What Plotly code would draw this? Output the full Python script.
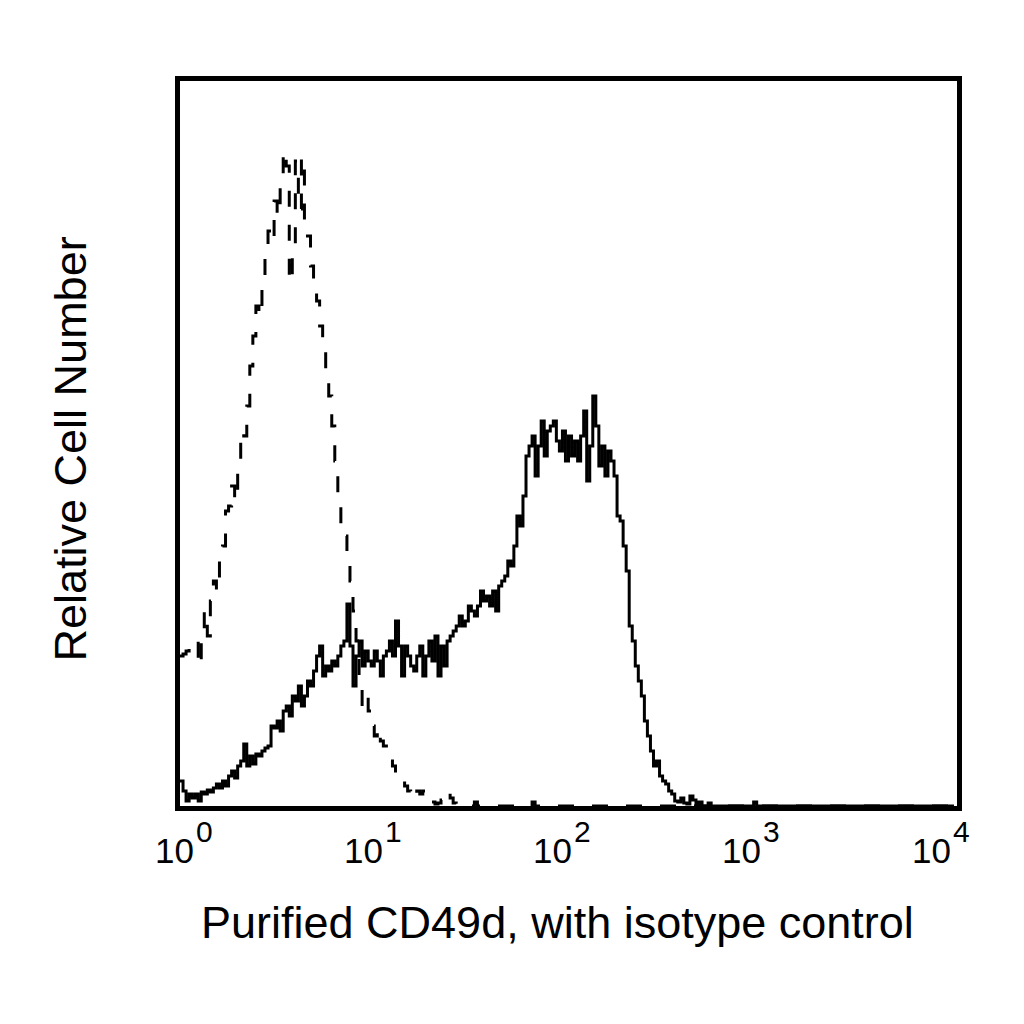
import numpy as np
import plotly.graph_objects as go

# 256 channel log histogram, 64 channels per decade
channels = np.arange(256)
intensity = 10 ** (channels / 64)

# decade labels as drawn (10 with a large exponent)
tick_base = ["10", "10", "10", "10", "10"]
tick_exp = ["0", "1", "2", "3", "4"]

# isotype control (dashed), counts per channel
isotype = [
    150, 152, 155, 160, 162, 165, 140, 175, 195, 170,
    205, 225, 215, 250, 260, 295, 300, 320, 305, 340,
    375, 370, 400, 440, 470, 500, 490, 520, 550, 575,
    565, 605, 590, 620, 655, 640, 524, 560, 645, 597,
    649, 580, 570, 540, 515, 505, 480, 460, 430, 410,
    380, 345, 310, 280, 270, 240, 225, 195, 165, 120,
    100, 110, 95, 80, 70, 78, 65, 60, 50, 45,
    40, 35, 30, 25, 20, 15, 12, 8, 15, 12,
    15, 10, 6, 4, 2, 3, 6, 10, 14, 8,
    3, 0, 0, 0, 0, 0, 0, 4, 0, 0,
    0, 0, 0, 0, 0, 0, 0, 0, 0, 0,
    0, 0, 0, 0, 0, 0, 4, 0, 0, 0,
]
isotype = isotype + [0] * (256 - len(isotype))

# purified CD49d (solid)
cd49d = [
    25, 15, 5, 12, 8, 12, 5, 14, 12, 16,
    14, 18, 22, 18, 25, 20, 30, 35, 28, 40,
    45, 62, 40, 50, 42, 52, 50, 55, 58, 60,
    80, 78, 85, 75, 95, 100, 90, 110, 105, 120,
    100, 110, 125, 120, 135, 150, 160, 130, 140, 135,
    145, 140, 150, 160, 165, 202, 160, 120, 150, 165,
    140, 155, 145, 140, 155, 145, 130, 150, 155, 165,
    150, 185, 160, 130, 160, 150, 140, 135, 150, 160,
    130, 150, 165, 145, 170, 130, 160, 140, 165, 170,
    175, 180, 190, 180, 185, 200, 195, 190, 200, 215,
    205, 210, 200, 215, 195, 220, 225, 230, 245, 240,
    260, 290, 280, 310, 350, 360, 370, 330, 360, 385,
    350, 375, 380, 385, 365, 355, 375, 345, 370, 350,
    365, 345, 370, 395, 325, 360, 410, 380, 340, 360,
    330, 355, 345, 330, 290, 285, 260, 235, 180, 165,
    140, 125, 110, 85, 70, 55, 40, 45, 30, 25,
    22, 15, 12, 5, 4, 8, 3, 2, 10, 6,
    2, 4, 0, 0, 3, 0, 0, 0, 0, 0,
    0, 0, 0, 0, 0, 0, 0, 0, 0, 4,
]
cd49d = cd49d + [0] * (256 - len(cd49d))

fig = go.Figure()
fig.add_trace(go.Scatter(x=intensity, y=cd49d, mode="lines", line_shape="hv",
                         line=dict(color="black", width=3), name="CD49d"))
fig.add_trace(go.Scatter(x=intensity, y=isotype, mode="lines", line_shape="hv",
                         line=dict(color="black", width=3, dash="16px,18px"), name="isotype"))

# page body adds 8px; plot area lands at 180..957 x 81..806 on the page
plot_w, plot_h = 777, 725
annots = []
for k, (b, e) in enumerate(zip(tick_base, tick_exp)):
    c = 2.5 + 189.25 * k  # label centre, px from the plot's left edge
    annots.append(dict(text=b, xref="paper", yref="paper", x=(c + 13) / plot_w, y=-0.0317,
                       xanchor="right", yanchor="top", showarrow=False, font=dict(size=35)))
    annots.append(dict(text=e, xref="paper", yref="paper", x=(c + 11) / plot_w, y=-0.0095,
                       xanchor="left", yanchor="top", showarrow=False, font=dict(size=30)))
annots.append(dict(text="Purified CD49d, with isotype control", xref="paper", yref="paper",
                   x=0.4858, y=-0.1228, xanchor="center", yanchor="top", showarrow=False,
                   font=dict(size=45)))
annots.append(dict(text="Relative Cell Number", xref="paper", yref="paper", textangle=-90,
                   x=-0.1403, y=0.4931, xanchor="center", yanchor="middle", showarrow=False,
                   font=dict(size=45)))

fig.update_layout(
    width=1024, height=1024,
    margin=dict(l=172, r=75, t=73, b=226),
    paper_bgcolor="white", plot_bgcolor="white",
    showlegend=False,
    font=dict(family="Liberation Sans, Arial", color="black"),
    annotations=annots,
)
fig.update_xaxes(
    type="log", range=[0, 4], automargin=False, showticklabels=False,
    ticks="", showgrid=False, zeroline=False,
    showline=True, linecolor="black", linewidth=5, mirror=True,
)
fig.update_yaxes(
    range=[0, 725], automargin=False, showticklabels=False, ticks="",
    showgrid=False, zeroline=False,
    showline=True, linecolor="black", linewidth=5, mirror=True,
)

fig.write_html("out.html")
